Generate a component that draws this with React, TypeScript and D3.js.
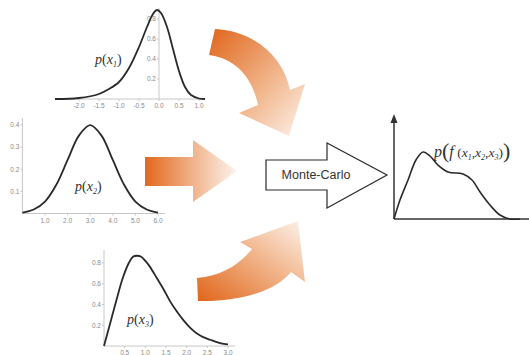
import React from "react";
import * as d3 from "d3";

// ---- data ----
const x1Vals = [-2.6, -2.0, -1.5, -1.25, -1.0, -0.75, -0.5, -0.3, -0.15, -0.05, 0.05, 0.2, 0.35, 0.5, 0.65, 0.8, 1.0, 1.15];
const p1Vals = [0.0, 0.01, 0.05, 0.1, 0.17, 0.31, 0.52, 0.72, 0.85, 0.89, 0.86, 0.72, 0.5, 0.28, 0.12, 0.04, 0.005, 0.0];
const x1Ticks = [-2.0, -1.5, -1.0, -0.5, 0.0, 0.5, 1.0];
const p1Ticks = [0.2, 0.4, 0.6, 0.8];

const x2Vals = [0, 0.5, 1.0, 1.5, 2.0, 2.5, 3.0, 3.5, 4.0, 4.5, 5.0, 5.5, 6.0];
const p2Vals = [0.004, 0.018, 0.054, 0.13, 0.242, 0.352, 0.399, 0.352, 0.242, 0.13, 0.054, 0.018, 0.004];
const x2Ticks = [1.0, 2.0, 3.0, 4.0, 5.0, 6.0];
const p2Ticks = [0.1, 0.2, 0.3, 0.4];

const x3Vals = [0, 0.15, 0.3, 0.45, 0.6, 0.7, 0.8, 0.9, 1.0, 1.1, 1.27, 1.45, 1.6, 1.75, 1.92, 2.1, 2.25, 2.4, 2.57, 2.75, 2.9, 3.0];
const p3Vals = [0, 0.22, 0.44, 0.65, 0.8, 0.86, 0.87, 0.86, 0.82, 0.77, 0.66, 0.54, 0.43, 0.34, 0.25, 0.17, 0.12, 0.085, 0.06, 0.035, 0.02, 0.015];
const x3Ticks = [0.5, 1.0, 1.5, 2.0, 2.5, 3.0];
const p3Ticks = [0.2, 0.4, 0.6, 0.8];

const fVals = [0, 0.46, 1.08, 1.69, 2.23, 2.77, 3.38, 4.15, 5.31, 6.0, 6.62, 7.38, 8.15, 8.92, 9.69];
const pfVals = [0, 0.19, 0.39, 0.59, 0.67, 0.63, 0.54, 0.47, 0.45, 0.39, 0.27, 0.14, 0.04, 0, 0];

const centerLabel = "Monte-Carlo";

const tickFont = "Liberation Sans, Arial, sans-serif";
const serif = "Liberation Serif, Times New Roman, serif";

function curvePath(xs: number[], ys: number[], sx: any, sy: any) {
  const pts = xs.map((x, i) => [x, ys[i]] as [number, number]);
  return d3
    .line<[number, number]>()
    .x((d) => sx(d[0]))
    .y((d) => sy(d[1]))
    .curve(d3.curveCatmullRom.alpha(0.5))(pts) as string;
}

type PanelProps = {
  xs: number[];
  ys: number[];
  xScale: any;
  yScale: any;
  xTicks: number[];
  yTicks: number[];
  xAxis: [number, number];
  yTop: number;
  label: string;
  sub: string;
  labelX: number;
  labelY: number;
};

function Panel(p: PanelProps) {
  const y0 = p.yScale(0);
  const x0 = p.xScale(0);
  return (
    <g>
      <line x1={p.xAxis[0]} x2={p.xAxis[1]} y1={y0} y2={y0} stroke="#c8c8c8" strokeWidth={1} />
      <line x1={x0} x2={x0} y1={p.yTop} y2={y0} stroke="#c8c8c8" strokeWidth={1} />
      {p.xTicks.map((t) => (
        <g key={"x" + t}>
          <line x1={p.xScale(t)} x2={p.xScale(t)} y1={y0} y2={y0 + 2} stroke="#c8c8c8" />
          <text x={p.xScale(t)} y={y0 + 9} fontSize={6.5} fill="#8a8a8a" textAnchor="middle" fontFamily={tickFont}>
            {t.toFixed(1)}
          </text>
        </g>
      ))}
      {p.yTicks.map((t) => (
        <g key={"y" + t}>
          <line x1={x0 - 2} x2={x0} y1={p.yScale(t)} y2={p.yScale(t)} stroke="#c8c8c8" />
          <text x={x0 - 3} y={p.yScale(t) + 2.3} fontSize={6.5} fill="#8a8a8a" textAnchor="end" fontFamily={tickFont}>
            {t.toFixed(1)}
          </text>
        </g>
      ))}
      <path d={curvePath(p.xs, p.ys, p.xScale, p.yScale)} fill="none" stroke="#2a2a2a" strokeWidth={1.8} strokeLinejoin="round" />
      <text x={p.labelX} y={p.labelY} fontFamily={serif} fontStyle="italic" fontSize={14} fill="#333">
        {p.label}
        <tspan fontStyle="normal">(</tspan>x
        <tspan fontSize={8} dy={3}>{p.sub}</tspan>
        <tspan dy={-3} fontStyle="normal">)</tspan>
      </text>
    </g>
  );
}

export default function App() {
  const sx1 = d3.scaleLinear().domain([-2, 1]).range([79, 199]);
  const sy1 = d3.scaleLinear().domain([0, 0.8]).range([99, 19]);
  const sx2 = d3.scaleLinear().domain([0, 6]).range([22.4, 158]);
  const sy2 = d3.scaleLinear().domain([0, 0.4]).range([213.5, 125]);
  const sx3 = d3.scaleLinear().domain([0, 3]).range([104, 228]);
  const sy3 = d3.scaleLinear().domain([0, 0.8]).range([346, 263]);
  const sxf = d3.scaleLinear().domain([0, 10]).range([394, 524]);
  const syf = d3.scaleLinear().domain([0, 1]).range([219, 119]);

  return (
    <svg width={529} height={355} style={{ position: "absolute", left: 0, top: 0, background: "#fff" }}>
      <defs>
        <linearGradient id="gTop" x1="0" y1="0" x2="1" y2="1">
          <stop offset="0" stopColor="#e0651a" />
          <stop offset="0.55" stopColor="#f1b48a" />
          <stop offset="1" stopColor="#fdf3ec" />
        </linearGradient>
        <linearGradient id="gMid" x1="0" y1="0" x2="1" y2="0">
          <stop offset="0" stopColor="#e2681c" />
          <stop offset="0.5" stopColor="#f0b087" />
          <stop offset="1" stopColor="#fdf4ee" />
        </linearGradient>
        <linearGradient id="gBot" x1="0" y1="1" x2="1" y2="0">
          <stop offset="0" stopColor="#e0651a" />
          <stop offset="0.55" stopColor="#f1b48a" />
          <stop offset="1" stopColor="#fdf3ec" />
        </linearGradient>
      </defs>

      {/* orange arrows */}
      <path d="M215,29 C253,31 283,55 290,90 L305,84 L289,136 L239,113 L258,105 C253,80 238,59 209,55 Z" fill="url(#gTop)" />
      <path d="M145,157 L193,157 L193,140 L237,171 L193,202 L193,186 L145,186 Z" fill="url(#gMid)" />
      <path d="M197,278 C222,276 240,264 252,249 L240,242 L298,221 L305,282 L291,272 C276,291 240,302 198,301 Z" fill="url(#gBot)" />

      <Panel xs={x1Vals} ys={p1Vals} xScale={sx1} yScale={sy1} xTicks={x1Ticks} yTicks={p1Ticks}
        xAxis={[55, 205]} yTop={8} label="p" sub="1" labelX={95} labelY={64} />
      <Panel xs={x2Vals} ys={p2Vals} xScale={sx2} yScale={sy2} xTicks={x2Ticks} yTicks={p2Ticks}
        xAxis={[22, 165]} yTop={118} label="p" sub="2" labelX={75} labelY={191} />
      <Panel xs={x3Vals} ys={p3Vals} xScale={sx3} yScale={sy3} xTicks={x3Ticks} yTicks={p3Ticks}
        xAxis={[104, 235]} yTop={250} label="p" sub="3" labelX={127} labelY={324} />

      {/* Monte-Carlo arrow */}
      <path d="M266,160 L327,160 L327,143 L387,175 L327,208 L327,190 L266,190 Z" fill="#fff" stroke="#2a2a2a" strokeWidth={1.2} />
      <text x={316} y={179} fontSize={12.5} fontFamily={tickFont} fill="#333" textAnchor="middle">{centerLabel}</text>

      {/* result chart */}
      <line x1={sxf(0)} x2={529} y1={syf(0)} y2={syf(0)} stroke="#333" strokeWidth={1.5} />
      <line x1={sxf(0)} x2={sxf(0)} y1={syf(0)} y2={121} stroke="#333" strokeWidth={1.5} />
      <path d={`M${sxf(0) - 3.5},123 L${sxf(0)},114 L${sxf(0) + 3.5},123 Z`} fill="#333" />
      <path d={curvePath(fVals, pfVals, sxf, syf)} fill="none" stroke="#2a2a2a" strokeWidth={1.6} strokeLinejoin="round" />
      <text x={434} y={157} fontFamily={serif} fontStyle="italic" fontSize={16} fill="#333">
        p<tspan fontSize={22} fontStyle="normal" dy={1}>(</tspan>
        <tspan dy={-1}>f</tspan>
        <tspan fontSize={13.5} fontStyle="normal"> (</tspan>
        <tspan fontSize={13.5}>x</tspan><tspan fontSize={8} dy={3}>1</tspan>
        <tspan fontSize={13.5} dy={-3} fontStyle="normal">,</tspan>
        <tspan fontSize={13.5}>x</tspan><tspan fontSize={8} dy={3}>2</tspan>
        <tspan fontSize={13.5} dy={-3} fontStyle="normal">,</tspan>
        <tspan fontSize={13.5}>x</tspan><tspan fontSize={8} dy={3}>3</tspan>
        <tspan fontSize={13.5} dy={-3} fontStyle="normal">)</tspan>
        <tspan fontSize={22} fontStyle="normal" dy={1}>)</tspan>
      </text>
    </svg>
  );
}
